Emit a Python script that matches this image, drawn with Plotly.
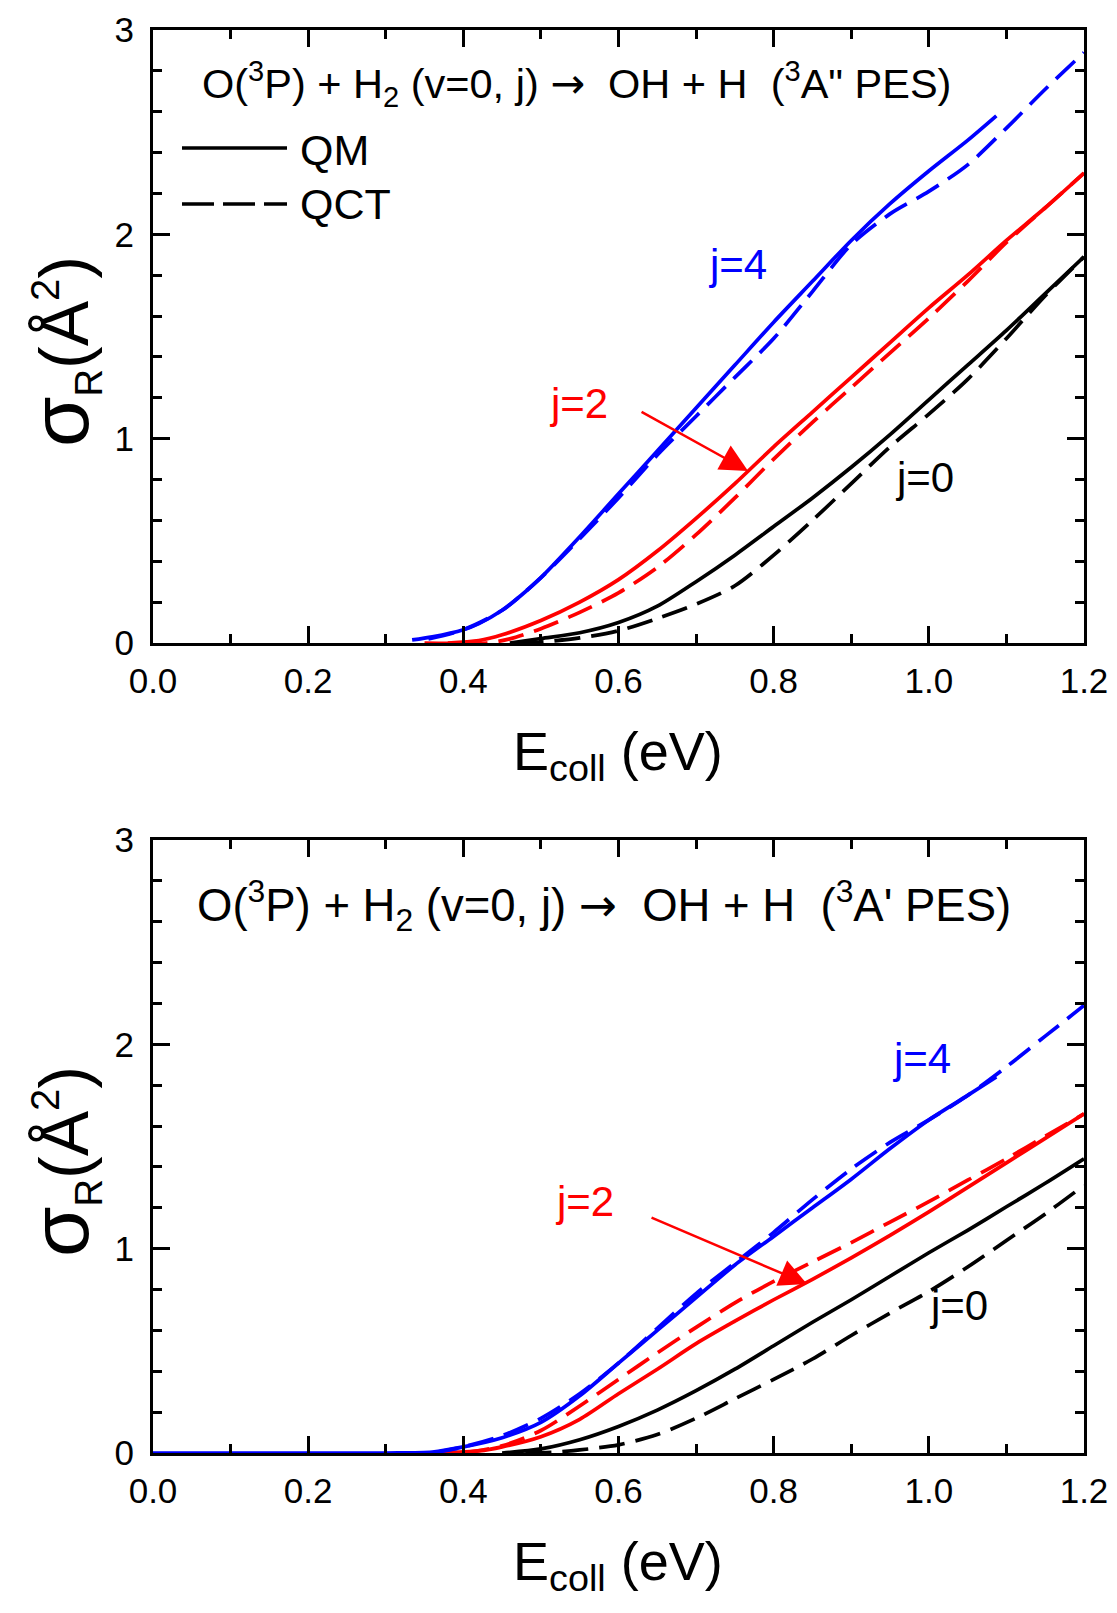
import plotly.graph_objects as go

W, H = 1117, 1613

# ---------------- data ----------------
# Top panel: 3A'' PES
top_qm_j4_E = [0.334, 0.36, 0.40, 0.42, 0.45, 0.475, 0.50, 0.55, 0.60, 0.65, 0.70, 0.75, 0.80, 0.85, 0.90, 0.95, 1.00, 1.05, 1.087]
top_qm_j4_s = [0.015, 0.03, 0.065, 0.095, 0.16, 0.235, 0.32, 0.52, 0.73, 0.94, 1.15, 1.36, 1.57, 1.77, 1.97, 2.15, 2.31, 2.46, 2.58]
top_qct_j4_E = [0.355, 0.40, 0.45, 0.50, 0.55, 0.60, 0.65, 0.70, 0.75, 0.80, 0.85, 0.90, 0.95, 1.00, 1.05, 1.10, 1.15, 1.20]
top_qct_j4_s = [0.02, 0.065, 0.16, 0.32, 0.51, 0.71, 0.92, 1.11, 1.30, 1.49, 1.72, 1.95, 2.10, 2.21, 2.34, 2.52, 2.71, 2.89]

top_qm_j2_E = [0.38, 0.42, 0.45, 0.50, 0.55, 0.60, 0.65, 0.70, 0.75, 0.80, 0.85, 0.90, 0.95, 1.00, 1.05, 1.10, 1.15, 1.20]
top_qm_j2_s = [0.0, 0.012, 0.04, 0.11, 0.20, 0.31, 0.45, 0.61, 0.78, 0.96, 1.13, 1.30, 1.47, 1.64, 1.80, 1.97, 2.13, 2.30]
top_qct_j2_E = [0.35, 0.43, 0.46, 0.50, 0.55, 0.60, 0.65, 0.70, 0.75, 0.80, 0.85, 0.90, 0.95, 1.00, 1.05, 1.10, 1.15, 1.20]
top_qct_j2_s = [0.0, 0.0, 0.02, 0.07, 0.15, 0.245, 0.37, 0.53, 0.71, 0.90, 1.08, 1.25, 1.42, 1.59, 1.77, 1.96, 2.13, 2.30]

top_qm_j0_E = [0.46, 0.50, 0.55, 0.60, 0.65, 0.70, 0.75, 0.80, 0.85, 0.90, 0.95, 1.00, 1.05, 1.10, 1.15, 1.20]
top_qm_j0_s = [0.0, 0.022, 0.05, 0.10, 0.18, 0.30, 0.43, 0.57, 0.71, 0.86, 1.02, 1.19, 1.36, 1.53, 1.71, 1.89]
top_qct_j0_E = [0.47, 0.50, 0.55, 0.60, 0.65, 0.70, 0.75, 0.80, 0.85, 0.90, 0.95, 1.00, 1.05, 1.10, 1.15, 1.20]
top_qct_j0_s = [0.0, 0.005, 0.025, 0.06, 0.12, 0.19, 0.28, 0.43, 0.60, 0.78, 0.96, 1.12, 1.29, 1.49, 1.70, 1.89]

# Bottom panel: 3A' PES
bot_qm_j4_E = [0.0, 0.30, 0.36, 0.40, 0.45, 0.50, 0.55, 0.60, 0.65, 0.70, 0.75, 0.80, 0.85, 0.90, 0.95, 1.00, 1.05, 1.087]
bot_qm_j4_s = [0.0, 0.0, 0.005, 0.03, 0.075, 0.15, 0.28, 0.44, 0.60, 0.76, 0.92, 1.06, 1.20, 1.34, 1.49, 1.63, 1.75, 1.84]
bot_qct_j4_E = [0.36, 0.40, 0.45, 0.50, 0.55, 0.60, 0.65, 0.70, 0.75, 0.80, 0.85, 0.90, 0.95, 1.00, 1.05, 1.10, 1.15, 1.20]
bot_qct_j4_s = [0.0, 0.03, 0.085, 0.17, 0.29, 0.44, 0.61, 0.78, 0.93, 1.08, 1.24, 1.39, 1.52, 1.63, 1.75, 1.89, 2.04, 2.19]

bot_qm_j2_E = [0.37, 0.42, 0.45, 0.50, 0.55, 0.60, 0.65, 0.70, 0.75, 0.80, 0.85, 0.90, 0.95, 1.00, 1.05, 1.10, 1.15, 1.20]
bot_qm_j2_s = [0.0, 0.01, 0.03, 0.08, 0.165, 0.29, 0.41, 0.535, 0.645, 0.75, 0.85, 0.955, 1.065, 1.18, 1.30, 1.42, 1.54, 1.66]
bot_qct_j2_E = [0.40, 0.45, 0.50, 0.55, 0.60, 0.65, 0.70, 0.75, 0.80, 0.85, 0.90, 0.95, 1.00, 1.05, 1.10, 1.15, 1.20]
bot_qct_j2_s = [0.0, 0.035, 0.11, 0.23, 0.36, 0.49, 0.615, 0.735, 0.84, 0.935, 1.03, 1.13, 1.23, 1.335, 1.44, 1.55, 1.66]

bot_qm_j0_E = [0.45, 0.50, 0.55, 0.60, 0.65, 0.70, 0.75, 0.80, 0.85, 0.90, 0.95, 1.00, 1.05, 1.10, 1.15, 1.20]
bot_qm_j0_s = [0.0, 0.02, 0.065, 0.13, 0.21, 0.305, 0.41, 0.525, 0.64, 0.75, 0.865, 0.98, 1.09, 1.205, 1.32, 1.44]
bot_qct_j0_E = [0.48, 0.52, 0.55, 0.60, 0.65, 0.70, 0.75, 0.80, 0.85, 0.90, 0.95, 1.00, 1.05, 1.10, 1.15, 1.20]
bot_qct_j0_s = [0.0, 0.005, 0.015, 0.04, 0.09, 0.17, 0.265, 0.36, 0.46, 0.575, 0.685, 0.79, 0.91, 1.04, 1.17, 1.31]

x_ticks = [0.0, 0.2, 0.4, 0.6, 0.8, 1.0, 1.2]
y_ticks = [0, 1, 2, 3]

BLUE, RED, BLACK = "#0000FF", "#FF0000", "#000000"
FONT = "Liberation Sans, Arial, Helvetica, sans-serif"
DASH = "26px,11px"
LW = 3.7

fig = go.Figure()


def add(xs, ys, color, dash, xa, ya):
    fig.add_trace(go.Scatter(
        x=xs, y=ys, mode="lines", xaxis=xa, yaxis=ya, showlegend=False,
        hoverinfo="skip",
        line=dict(color=color, width=LW, dash=dash, shape="spline", smoothing=0.8)))


# top panel (x, y)
add(top_qct_j0_E, top_qct_j0_s, BLACK, DASH, "x", "y")
add(top_qm_j0_E, top_qm_j0_s, BLACK, "solid", "x", "y")
add(top_qct_j2_E, top_qct_j2_s, RED, DASH, "x", "y")
add(top_qm_j2_E, top_qm_j2_s, RED, "solid", "x", "y")
add(top_qct_j4_E, top_qct_j4_s, BLUE, DASH, "x", "y")
add(top_qm_j4_E, top_qm_j4_s, BLUE, "solid", "x", "y")
# bottom panel (x2, y2)
add(bot_qct_j0_E, bot_qct_j0_s, BLACK, DASH, "x2", "y2")
add(bot_qm_j0_E, bot_qm_j0_s, BLACK, "solid", "x2", "y2")
add(bot_qct_j2_E, bot_qct_j2_s, RED, DASH, "x2", "y2")
add(bot_qm_j2_E, bot_qm_j2_s, RED, "solid", "x2", "y2")
add(bot_qct_j4_E, bot_qct_j4_s, BLUE, DASH, "x2", "y2")
add(bot_qm_j4_E, bot_qm_j4_s, BLUE, "solid", "x2", "y2")


def px(x):
    return x / W


def py(y):
    return 1 - y / H


xdom = [px(153), px(1084)]
ydom_top = [py(643), py(30)]
ydom_bot = [py(1453), py(840)]

xcommon = dict(
    range=[0, 1.2], tickvals=x_ticks, ticktext=[f"{v:.1f}" for v in x_ticks],
    ticks="inside", ticklen=17, tickwidth=2.5, tickcolor="black",
    showline=True, linewidth=3, linecolor="black", mirror="ticks",
    showgrid=False, zeroline=False, ticklabelstandoff=5, automargin=False,
    tickfont=dict(family=FONT, size=35, color="black"),
    minor=dict(dtick=0.1, tick0=0, ticks="inside", ticklen=9, tickwidth=2.5,
               tickcolor="black", showgrid=False),
    domain=xdom, fixedrange=True)
ycommon = dict(
    range=[0, 3], tickvals=y_ticks, ticktext=[str(v) for v in y_ticks],
    ticks="inside", ticklen=17, tickwidth=2.5, tickcolor="black",
    showline=True, linewidth=3, linecolor="black", mirror="ticks",
    showgrid=False, zeroline=False, ticklabelstandoff=9, automargin=False,
    tickfont=dict(family=FONT, size=35, color="black"),
    minor=dict(dtick=0.2, tick0=0, ticks="inside", ticklen=9, tickwidth=2.5,
               tickcolor="black", showgrid=False),
    fixedrange=True)

fig.update_layout(
    template="none",
    width=W, height=H, margin=dict(l=0, r=0, t=0, b=0, pad=0),
    paper_bgcolor="white", plot_bgcolor="white",
    font=dict(family=FONT, color="black"),
    xaxis=dict(xcommon, anchor="y"),
    yaxis=dict(ycommon, domain=ydom_top, anchor="x"),
    xaxis2=dict(xcommon, anchor="y2"),
    yaxis2=dict(ycommon, domain=ydom_bot, anchor="x2"),
)

ann = []
# axis titles
ytitle = ('<span style="font-size:82px">σ</span><sub><span style="font-size:38px">R</span></sub>'
          '(Å<sup><span style="font-size:40px">2</span></sup>)')
for yc in (352, 1162):
    ann.append(dict(xref="paper", yref="paper", x=px(62), y=py(yc), text=ytitle,
                    textangle=-90, showarrow=False, xanchor="center", yanchor="middle",
                    font=dict(family=FONT, size=68, color="black")))
xtitle = 'E<sub>coll</sub> (eV)'
for yc in (755, 1565):
    ann.append(dict(xref="paper", yref="paper", x=px(618), y=py(yc), text=xtitle,
                    showarrow=False, xanchor="center", yanchor="middle",
                    font=dict(family=FONT, size=54, color="black")))

NB = "\u00a0"
ARROW = '<span style="font-family:DejaVu Sans">→</span>'
ann.append(dict(xref="paper", yref="paper", x=px(576), y=py(84),
                text=f"O(<sup>3</sup>P) + H<sub>2</sub> (v=0, j) {ARROW}{NB}{NB}OH + H{NB}{NB}(<sup>3</sup>A\" PES)",
                showarrow=False, xanchor="center", yanchor="middle",
                font=dict(family=FONT, size=41.5, color="black")))
ann.append(dict(xref="paper", yref="paper", x=px(604), y=py(905),
                text=f"O(<sup>3</sup>P) + H<sub>2</sub> (v=0, j) {ARROW}{NB}{NB}OH + H{NB}{NB}(<sup>3</sup>A' PES)",
                showarrow=False, xanchor="center", yanchor="middle",
                font=dict(family=FONT, size=45.5, color="black")))

# legend texts
ann.append(dict(xref="paper", yref="paper", x=px(298), y=py(150), text="QM",
                showarrow=False, xanchor="left", yanchor="middle",
                font=dict(family=FONT, size=43, color="black")))
ann.append(dict(xref="paper", yref="paper", x=px(298), y=py(204), text="QCT",
                showarrow=False, xanchor="left", yanchor="middle",
                font=dict(family=FONT, size=43, color="black")))

# j labels
labels = [
    ("x", "y", 0.754, 1.85, "j=4", BLUE),
    ("x", "y", 0.549, 1.17, "j=2", RED),
    ("x", "y", 0.994, 0.81, "j=0", BLACK),
    ("x2", "y2", 0.99, 1.93, "j=4", BLUE),
    ("x2", "y2", 0.556, 1.233, "j=2", RED),
    ("x2", "y2", 1.038, 0.72, "j=0", BLACK),
]
for xr, yr, xv, yv, t, c in labels:
    ann.append(dict(xref=xr, yref=yr, x=xv, y=yv, text=t, showarrow=False,
                    xanchor="center", yanchor="middle",
                    font=dict(family=FONT, size=42, color=c)))

# arrows
ann.append(dict(xref="x", yref="y", x=0.767, y=0.842, ax=-108, ay=-60, text="",
                showarrow=True, arrowhead=2, arrowsize=2.2, arrowwidth=2.5,
                arrowcolor=RED, standoff=0))
ann.append(dict(xref="x2", yref="y2", x=0.843, y=0.827, ax=-157, ay=-67, text="",
                showarrow=True, arrowhead=2, arrowsize=2.2, arrowwidth=2.5,
                arrowcolor=RED, standoff=0))

fig.update_layout(annotations=ann)

# legend sample lines
fig.add_shape(type="line", xref="paper", yref="paper", x0=px(182), x1=px(287),
              y0=py(148), y1=py(148), line=dict(color="black", width=LW))
fig.add_shape(type="line", xref="paper", yref="paper", x0=px(182), x1=px(287),
              y0=py(204), y1=py(204), line=dict(color="black", width=LW, dash="32px,9px"))

fig.write_html("out.html")
